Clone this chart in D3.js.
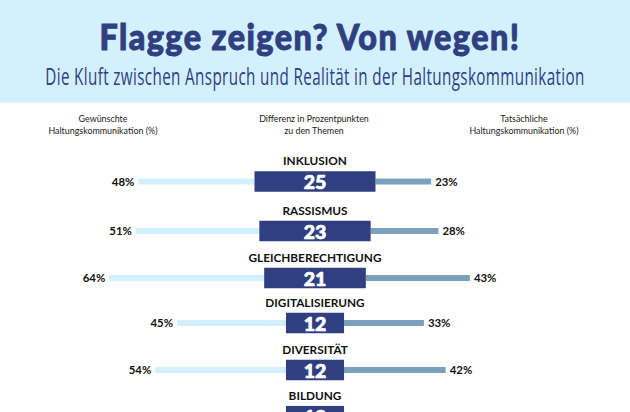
<!DOCTYPE html>
<html>
<head>
<meta charset="utf-8">
<script src="https://cdn.jsdelivr.net/npm/d3@7"></script>
<style>
  html, body { margin: 0; padding: 0; background: #fff; }
  svg { display: block; }
</style>
</head>
<body>
<svg id="chart" width="630" height="412"></svg>
<script>
const topics = ['INKLUSION', 'RASSISMUS', 'GLEICHBERECHTIGUNG', 'DIGITALISIERUNG', 'DIVERSITÄT', 'BILDUNG'];
const wanted = [48, 51, 64, 45, 54, 40];
const actual = [23, 28, 43, 33, 42, 28];
const differences = [25, 23, 21, 12, 12, 12];

const title = 'Flagge zeigen? Von wegen!';
const subtitle = 'Die Kluft zwischen Anspruch und Realität in der Haltungskommunikation';
const leftHead = ['Gewünschte', 'Haltungskommunikation (%)'];
const midHead = ['Differenz in Prozentpunkten', 'zu den Themen'];
const rightHead = ['Tatsächliche', 'Haltungskommunikation (%)'];

const W = 630, H = 412, cx = 315;
const navy = '#2f3f7f', pale = '#d3f0ff', steel = '#7aa2bc';
const heavy = 'Lato, "Open Sans", sans-serif';

const svg = d3.select('#chart');

// header band
svg.append('rect').attr('width', W).attr('height', 102.5).attr('fill', pale);

// no condensed face is installed, so squeeze the text to the wanted width
function squeezed(sel, px, py, wide) {
  const scale = wide / sel.node().getComputedTextLength();
  sel.attr('text-anchor', 'middle')
    .attr('transform', `translate(${px},${py}) scale(${scale},1)`);
}

svg.append('text')
  .attr('font-family', heavy).attr('font-weight', 900).attr('font-size', 36)
  .attr('letter-spacing', 1.6)
  .attr('fill', navy).attr('stroke', navy).attr('stroke-width', 1)
  .text(title)
  .call(squeezed, 310, 49.5, 421);

svg.append('text')
  .attr('font-family', '"Open Sans", sans-serif').attr('font-size', 24.5)
  .attr('letter-spacing', 0.6)
  .attr('fill', navy)
  .text(subtitle)
  .call(squeezed, cx, 85, 540);

// column heads
function head(lines, x) {
  svg.append('g').selectAll('text')
    .data(lines)
    .enter()
    .append('text')
    .attr('x', x)
    .attr('y', (d, i) => 121.5 + i * 12.8)
    .attr('text-anchor', 'middle')
    .attr('font-family', 'Lato, sans-serif').attr('font-size', 8.9)
    .attr('fill', '#1a1a1a')
    .text(d => d);
}
head(leftHead, 103);
head(midHead, 314);
head(rightHead, 524);

// one percentage point has the same width on both sides of the centre
const x = d3.scaleLinear().domain([0, 100]).range([0, 242]);

// rows are not evenly spaced in the original
const rowY = d3.scaleOrdinal().domain(topics).range([181.5, 231, 278, 323, 370, 416.2]);

const rows = topics.map((t, i) => ({ topic: t, wanted: wanted[i], actual: actual[i], diff: differences[i] }));

const row = svg.append('g').selectAll('g')
  .data(rows)
  .enter()
  .append('g')
  .attr('transform', d => `translate(${cx},${rowY(d.topic)})`);

// wanted, left of the box
row.append('rect')
  .attr('x', d => -x(d.diff) - x(d.wanted))
  .attr('y', -3)
  .attr('width', d => x(d.wanted))
  .attr('height', 6)
  .attr('fill', pale);

// actual, right of the box
row.append('rect')
  .attr('x', d => x(d.diff))
  .attr('y', -3)
  .attr('width', d => x(d.actual))
  .attr('height', 6)
  .attr('fill', steel);

// difference box
row.append('rect')
  .attr('x', d => -x(d.diff))
  .attr('y', -10.25)
  .attr('width', d => 2 * x(d.diff))
  .attr('height', 20.5)
  .attr('fill', navy);

row.append('text')
  .attr('y', 7.5)
  .attr('text-anchor', 'middle')
  .attr('font-family', heavy).attr('font-weight', 900).attr('font-size', 19.5)
  .attr('fill', '#fff').attr('stroke', '#fff').attr('stroke-width', 0.7)
  .text(d => d.diff);

row.append('text')
  .attr('y', -16.5)
  .attr('text-anchor', 'middle')
  .attr('font-family', heavy).attr('font-weight', 700).attr('font-size', 11.8)
  .attr('fill', '#111')
  .text(d => d.topic);

row.append('text')
  .attr('x', d => -x(d.diff) - x(d.wanted) - 4)
  .attr('y', 4.2)
  .attr('text-anchor', 'end')
  .attr('font-family', heavy).attr('font-weight', 700).attr('font-size', 11.4)
  .attr('fill', '#111')
  .text(d => d.wanted + '%');

row.append('text')
  .attr('x', d => x(d.diff) + x(d.actual) + 4)
  .attr('y', 4.2)
  .attr('font-family', heavy).attr('font-weight', 700).attr('font-size', 11.4)
  .attr('fill', '#111')
  .text(d => d.actual + '%');
</script>
</body>
</html>
